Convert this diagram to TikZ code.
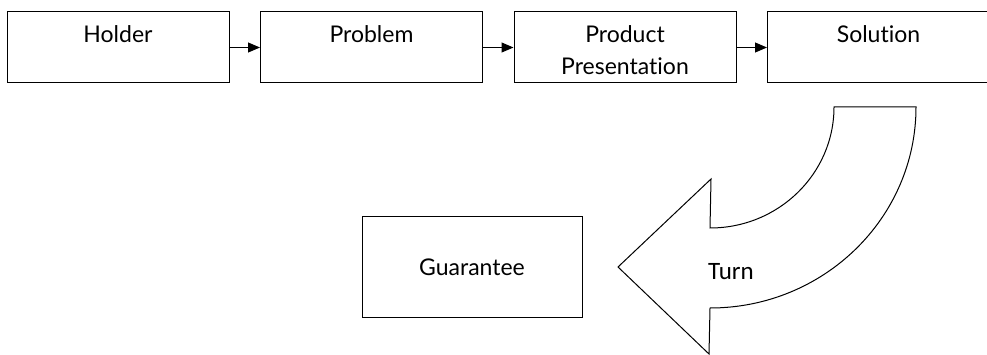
\documentclass[tikz,border=0pt]{standalone}
\usepackage{fontspec}
\setmainfont{Lato}[Ligatures=NoCommon]
\newfontfamily\turnfont{Carlito}
\usetikzlibrary{arrows.meta}
\tikzset{
  stage/.style={draw, line width=1, minimum width=222, minimum height=71, inner sep=0},
  stagetext/.style={anchor=north, align=center, font=\fontsize{23}{32}\selectfont, yshift=-11},
  flow/.style={-{Triangle[length=12,width=10]}, line width=1},
}

\begin{document}
\begin{tikzpicture}[x=1pt, y=-1pt]
\useasboundingbox (0,0) rectangle (987,355);
% top row
\node[stage, label={[stagetext]north:Holder}] (holder) at (118,47.5) {};
\node[stage, label={[stagetext]north:Problem}] (problem) at (371.5,47.5) {};
\node[stage, label={[stagetext]north:Product\\Presentation}] (product) at (625,47.5) {};
\node[stage, label={[stagetext]north:Solution}] (solution) at (878.5,47.5) {};
\draw[flow] (holder) -- (problem);
\draw[flow] (problem) -- (product);
\draw[flow] (product) -- (solution);
% curved arrow
\draw[line width=1, line join=miter] (834,107) -- (916,107)
  arc[start angle=0, end angle=90, x radius=206, y radius=201]
  -- (709,354) -- (618,267) -- (711,179) -- (710,228)
  arc[start angle=90, end angle=0, x radius=124, y radius=121] -- cycle;
\node[font=\turnfont\fontsize{25}{30}\selectfont] (turn) at (731,272) {Turn};
\node[stage, minimum width=220, minimum height=100, font=\fontsize{23}{28}\selectfont] (guarantee) at (472,267) {Guarantee};
\end{tikzpicture}
\end{document}
